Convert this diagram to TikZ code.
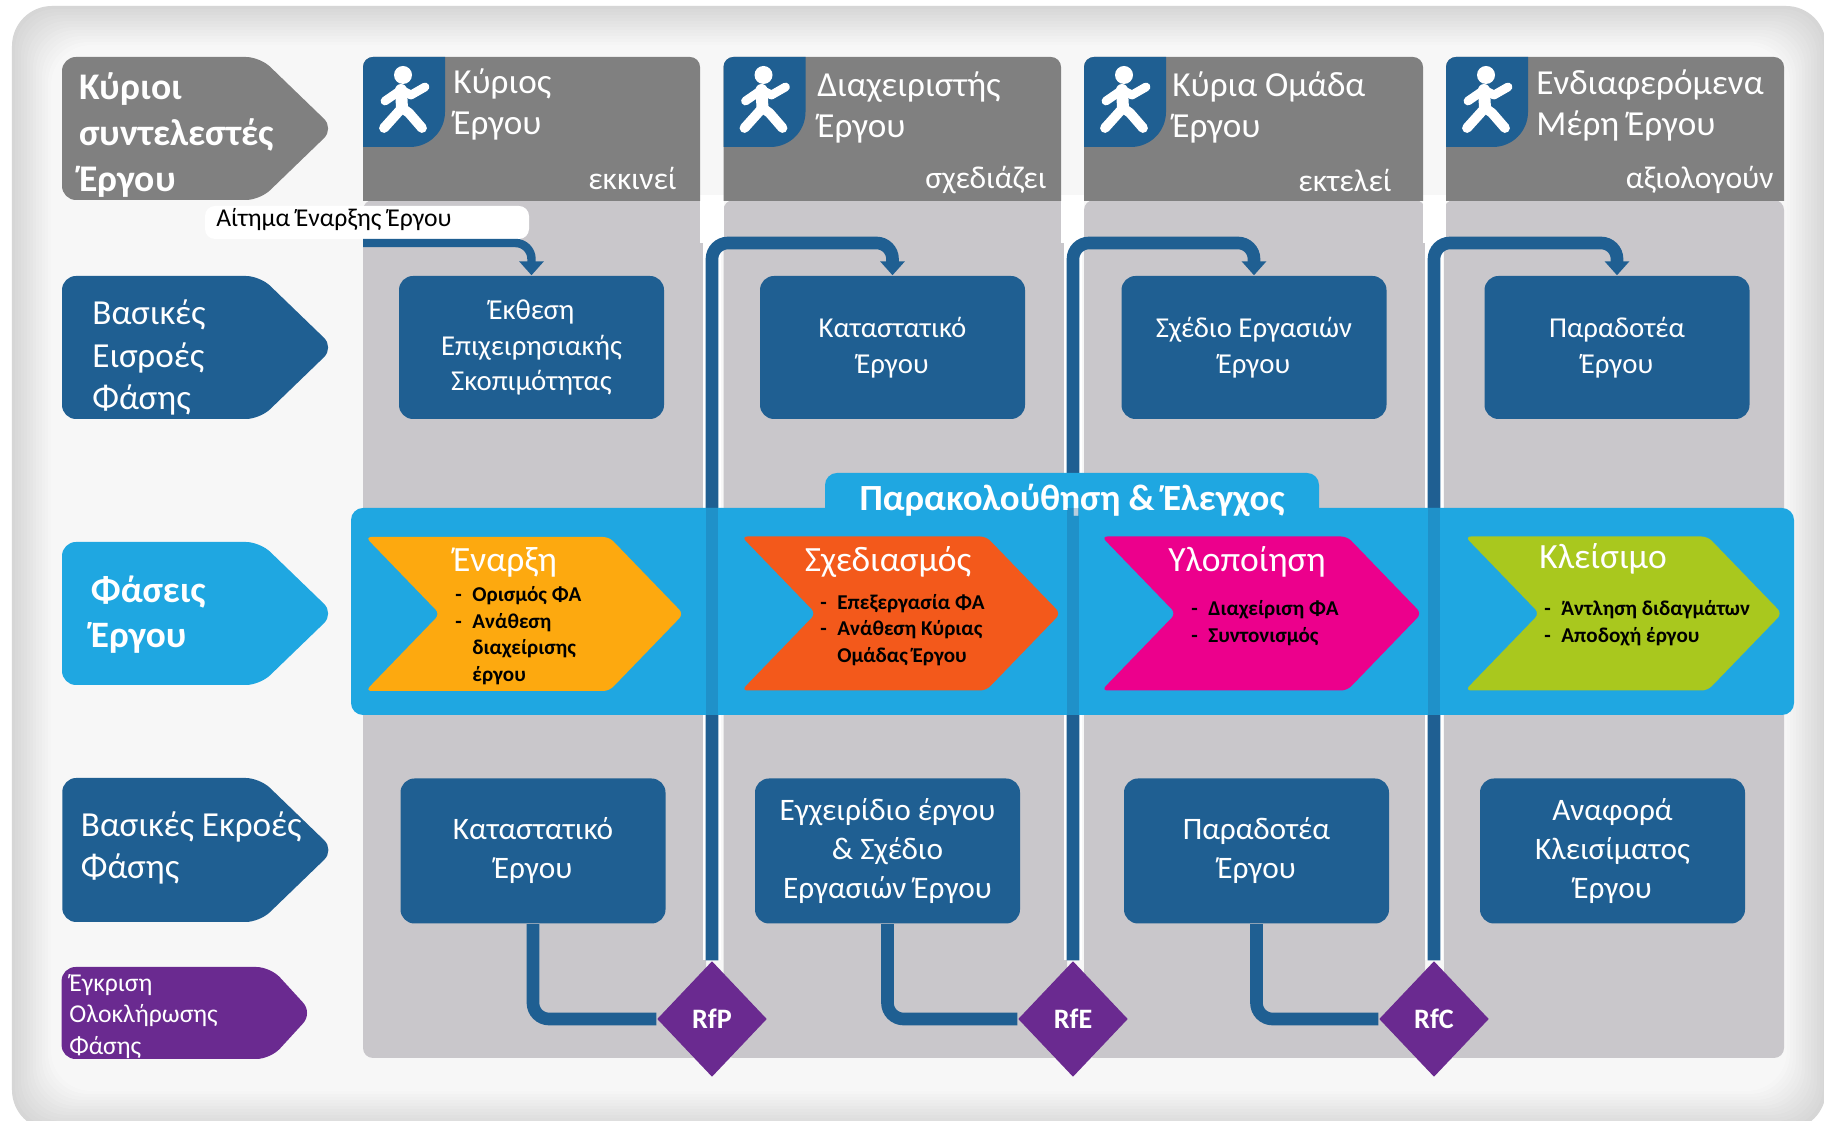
\documentclass[tikz,border=0pt]{standalone}
\usepackage{fontspec}
\setmainfont{Carlito}
\usepackage{tikz}
\usetikzlibrary{shapes,shapes.geometric,shapes.symbols,arrows.meta,calc}
\definecolor{keygrey}{HTML}{808080}
\definecolor{lanegrey}{HTML}{C9C7CB}
\definecolor{phaseblue}{HTML}{1F5F92}
\definecolor{bandcyan}{HTML}{1FA7E1}
\definecolor{gateviolet}{HTML}{6A2A90}
\definecolor{startorange}{HTML}{FDA90F}
\definecolor{planred}{HTML}{F3591B}
\definecolor{runpink}{HTML}{EC008C}
\definecolor{closelime}{HTML}{A9C81E}

\newcommand{\dashitem}[1]{\makebox[0.17cm][l]{-}#1}
\newcommand{\dashcont}[1]{\hspace*{0.17cm}#1}

\begin{document}
\begin{tikzpicture}[
    rowkey/.style={signal, signal to=east, signal pointer angle=88, rounded corners=0.14cm, minimum width=2.72cm, minimum height=1.43cm, inner sep=0pt, text=white},
    rowtext/.style={anchor=west, align=left, text=white, font=\fontsize{10}{12.2}\selectfont},
    chevron/.style={signal, signal to=east, signal from=west, signal pointer angle=92, rounded corners=0.06cm, minimum height=1.54cm, inner sep=0pt},
    phasetitle/.style={text=white, font=\fontsize{10.1}{11}\selectfont},
    phaselist/.style={anchor=west, align=left, font=\fontsize{6}{7.6}\selectfont\bfseries},
    inbox/.style={rectangle, rounded corners=0.14cm, minimum width=2.65cm, minimum height=1.43cm, align=center, fill=phaseblue, text=white, font=\fontsize{8.2}{10.1}\selectfont},
    outbox/.style={inbox, minimum height=1.45cm, font=\fontsize{8.9}{11.1}\selectfont},
    gate/.style={diamond, fill=gateviolet, text=white, minimum width=1.1cm, minimum height=1.16cm, inner sep=0pt, font=\fontsize{8}{9}\selectfont\bfseries},
    heading/.style={anchor=west, align=left, text=white, font=\fontsize{10}{11.7}\selectfont},
    verb/.style={anchor=east, text=white, font=\fontsize{9}{10}\selectfont},
    flow/.style={draw=phaseblue, line width=3.6pt, rounded corners=0.16cm},
    flowin/.style={flow, -{Triangle[length=0.14cm, width=0.24cm]}},
    halo/.style={draw=white, line width=5pt},
    runner/.pic={
        \fill[white] (0,0.25) circle (0.09);
        \draw[white, line width=3.4pt, line cap=round] (-0.02,0.1) -- (-0.01,-0.08);
        \draw[white, line width=2.5pt, line cap=round, line join=round] (-0.18,-0.01) -- (-0.02,0.1) -- (0.08,0.05) -- (0.22,0.13);
        \draw[white, line width=2.8pt, line cap=round, line join=round] (-0.19,-0.28) -- (-0.01,-0.08) -- (0.06,-0.13) -- (0.19,-0.28);
    },
]
    \useasboundingbox (0,0) rectangle (18.24,-11.21);

    % Panel
    \fill[white] (0,0) rectangle (18.24,-11.21);
    \foreach \i [evaluate=\i as \tone using 16-\i, evaluate=\i as \inset using 0.03*\i] in {0,...,13}
        \fill[black!\tone, rounded corners=0.4cm] (0.12+\inset,-0.06-\inset) rectangle (18.26-\inset,-11.3+\inset);

    % Lanes
    \fill[lanegrey, rounded corners=0.1cm] (3.63,-2.0) rectangle (7.06,-10.58);
    \fill[lanegrey, rounded corners=0.1cm] (7.235,-2.0) rectangle (10.67,-10.58);
    \fill[lanegrey, rounded corners=0.1cm] (10.84,-2.0) rectangle (14.25,-10.58);
    \fill[lanegrey, rounded corners=0.1cm] (14.44,-2.0) rectangle (17.84,-10.58);
    \fill[white] (7.0,-1.95) rectangle (7.235,-2.43);
    \fill[white] (10.61,-1.95) rectangle (10.84,-2.43);
    \fill[white] (14.23,-1.95) rectangle (14.46,-2.43);

    % Lane heads
    \fill[keygrey] (3.63,-2.01) [rounded corners=0.1cm] -- (3.63,-0.57) -- (7.0,-0.57) [sharp corners] -- (7.0,-2.01) -- cycle;
    \fill[keygrey] (7.235,-2.01) [rounded corners=0.1cm] -- (7.235,-0.57) -- (10.61,-0.57) [sharp corners] -- (10.61,-2.01) -- cycle;
    \fill[keygrey] (10.84,-2.01) [rounded corners=0.1cm] -- (10.84,-0.57) -- (14.23,-0.57) [sharp corners] -- (14.23,-2.01) -- cycle;
    \fill[keygrey] (14.46,-2.01) [rounded corners=0.1cm] -- (14.46,-0.57) -- (17.84,-0.57) [sharp corners] -- (17.84,-2.01) -- cycle;

    % Icon tabs
    \fill[phaseblue] (3.63,-1.47) [rounded corners=0.1cm] -- (3.63,-0.57) [sharp corners] -- (4.45,-0.57) [rounded corners=0.35cm] -- (4.45,-1.47) [sharp corners] -- cycle;
    \fill[phaseblue] (7.235,-1.47) [rounded corners=0.1cm] -- (7.235,-0.57) [sharp corners] -- (8.055,-0.57) [rounded corners=0.35cm] -- (8.055,-1.47) [sharp corners] -- cycle;
    \fill[phaseblue] (10.84,-1.47) [rounded corners=0.1cm] -- (10.84,-0.57) [sharp corners] -- (11.66,-0.57) [rounded corners=0.35cm] -- (11.66,-1.47) [sharp corners] -- cycle;
    \fill[phaseblue] (14.46,-1.47) [rounded corners=0.1cm] -- (14.46,-0.57) [sharp corners] -- (15.28,-0.57) [rounded corners=0.35cm] -- (15.28,-1.47) [sharp corners] -- cycle;
    \pic at (4.03,-1.0) {runner};
    \pic at (7.635,-1.0) {runner};
    \pic at (11.24,-1.0) {runner};
    \pic at (14.86,-1.0) {runner};

    % Lane head texts
    \node[heading] (owner) at (4.41,-1.045) {Κύριος\\Έργου};
    \node[heading] (manager) at (8.05,-1.075) {Διαχειριστής\\Έργου};
    \node[heading] (team) at (11.6,-1.075) {Κύρια Ομάδα\\Έργου};
    \node[heading] (parties) at (15.24,-1.055) {Ενδιαφερόμενα\\Μέρη Έργου};
    \node[verb] (starts) at (6.89,-1.78) {εκκινεί};
    \node[verb] (plans) at (10.59,-1.8) {σχεδιάζει};
    \node[verb] (runs) at (14.04,-1.8) {εκτελεί};
    \node[verb] (assess) at (17.86,-1.8) {αξιολογούν};

    % Row keys
    \node[rowkey, fill=keygrey] (keypeople) at (1.61,-1.285) {};
    \node[rowkey, fill=phaseblue] (keyin) at (1.61,-3.475) {};
    \node[rowkey, fill=bandcyan] (keyphase) at (1.61,-6.135) {};
    \node[rowkey, fill=phaseblue, minimum height=1.44cm] (keyout) at (1.61,-8.5) {};
    \node[rowkey, fill=gateviolet, minimum height=0.92cm, minimum width=2.51cm, signal pointer angle=95] (keygate) at (1.66,-10.13) {};
    \node[rowtext, font=\fontsize{10.7}{13}\selectfont\bfseries] (keypeopletext) at (0.67,-1.35) {Κύριοι\\συντελεστές\\Έργου};
    \node[rowtext] (keyintext) at (0.8,-3.575) {Βασικές\\Εισροές\\Φάσης};
    \node[rowtext, font=\fontsize{10.6}{13}\selectfont\bfseries] (keyphasetext) at (0.785,-6.145) {Φάσεις\\Έργου};
    \node[rowtext] (keyouttext) at (0.685,-8.48) {Βασικές Εκροές\\Φάσης};
    \node[rowtext, font=\fontsize{7.3}{8.9}\selectfont] (keygatetext) at (0.57,-10.165) {Έγκριση\\Ολοκλήρωσης\\Φάσης};

    % Input boxes
    \node[inbox] (inA) at (5.315,-3.475) {Έκθεση\\Επιχειρησιακής\\Σκοπιμότητας};
    \node[inbox] (inB) at (8.925,-3.475) {Καταστατικό\\Έργου};
    \node[inbox] (inC) at (12.54,-3.475) {Σχέδιο Εργασιών\\Έργου};
    \node[inbox] (inD) at (16.17,-3.475) {Παραδοτέα\\Έργου};

    % Output boxes
    \node[outbox] (outA) at (5.33,-8.51) {Καταστατικό\\Έργου};
    \node[outbox] (outB) at (8.875,-8.51) {Εγχειρίδιο έργου\\\& Σχέδιο\\Εργασιών Έργου};
    \node[outbox] (outC) at (12.565,-8.51) {Παραδοτέα\\Έργου};
    \node[outbox] (outD) at (16.125,-8.51) {Αναφορά\\Κλεισίματος\\Έργου};

    % Gates
    \node[gate] (rfp) at (7.12,-10.19) {RfP};
    \node[gate] (rfe) at (10.73,-10.19) {RfE};
    \node[gate] (rfc) at (14.34,-10.19) {RfC};

    % Request label
    \fill[white, rounded corners=0.1cm] (2.05,-2.06) rectangle (5.29,-2.39);
    \node[font=\fontsize{7.3}{8}\selectfont] (request) at (3.34,-2.2) {Αίτημα Έναρξης Έργου};

    % Connectors
    \coordinate (startA) at (3.63,-2.43);
    \coordinate (railA) at (5.315,-2.43);
    \coordinate (railB) at (8.925,-2.43);
    \coordinate (railC) at (12.54,-2.43);
    \coordinate (railD) at (16.17,-2.43);
    \draw[halo] (rfp.north) -- (rfp |- railB);
    \draw[halo] (rfe.north) -- (rfe |- railC);
    \draw[halo] (rfc.north) -- (rfc |- railD);
    \draw[flowin, line width=2.4pt] (startA) -- (railA) -- (inA.north);
    \draw[flowin] (rfp.north) |- (railB) -- (inB.north);
    \draw[flowin] (rfe.north) |- (railC) -- (inC.north);
    \draw[flowin] (rfc.north) |- (railD) -- (inD.north);
    \draw[flow] (outA.south) |- (rfp.west);
    \draw[flow] (outB.south) |- (rfe.west);
    \draw[flow] (outC.south) |- (rfc.west);

    % Monitoring band
    \fill[bandcyan, rounded corners=0.12cm] (3.51,-5.08) rectangle (17.94,-7.15);
    \fill[bandcyan, rounded corners=0.12cm] (8.25,-4.73) rectangle (13.19,-5.4);
    \node[text=white, font=\fontsize{10.5}{12}\selectfont\bfseries] (monitor) at (10.72,-5.0) {Παρακολούθηση \& Έλεγχος};
    \fill[phaseblue, opacity=0.3] (7.06,-5.08) rectangle (7.18,-7.15);
    \fill[phaseblue, opacity=0.3] (10.67,-5.08) rectangle (10.79,-7.15);
    \fill[phaseblue, opacity=0.3] (14.28,-5.08) rectangle (14.4,-7.15);

    % Phases
    \node[chevron, fill=startorange, minimum width=3.18cm] (start) at (5.245,-6.14) {};
    \node[chevron, fill=planred, minimum width=3.19cm] (plan) at (9.01,-6.135) {};
    \node[chevron, fill=runpink, minimum width=3.2cm] (run) at (12.615,-6.135) {};
    \node[chevron, fill=closelime, minimum width=3.17cm] (close) at (16.235,-6.135) {};

    \node[phasetitle] (starttitle) at (5.05,-5.62) {Έναρξη};
    \node[phasetitle] (plantitle) at (8.88,-5.62) {Σχεδιασμός};
    \node[phasetitle] (runtitle) at (12.47,-5.62) {Υλοποίηση};
    \node[phasetitle] (closetitle) at (16.03,-5.59) {Κλείσιμο};

    \node[phaselist] (startlist) at (4.43,-6.355) {\dashitem{Ορισμός ΦΑ}\\\dashitem{Ανάθεση}\\\dashcont{διαχείρισης}\\\dashcont{έργου}};
    \node[phaselist] (planlist) at (8.08,-6.3) {\dashitem{Επεξεργασία ΦΑ}\\\dashitem{Ανάθεση Κύριας}\\\dashcont{Ομάδας Έργου}};
    \node[phaselist] (runlist) at (11.79,-6.23) {\dashitem{Διαχείριση ΦΑ}\\\dashitem{Συντονισμός}};
    \node[phaselist] (closelist) at (15.32,-6.23) {\dashitem{Άντληση διδαγμάτων}\\\dashitem{Αποδοχή έργου}};
\end{tikzpicture}
\end{document}
